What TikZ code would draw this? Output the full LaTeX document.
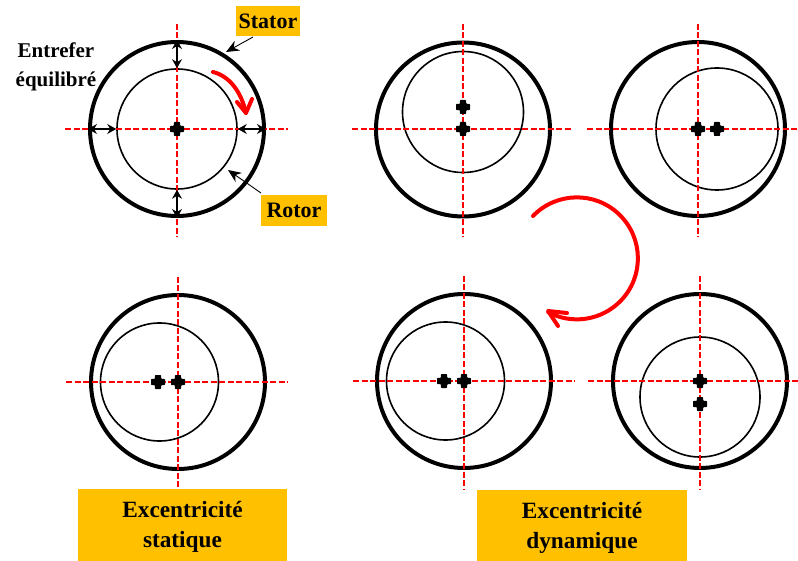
\documentclass[tikz,border=0pt]{standalone}
\usepackage{fontspec}
\setmainfont{Liberation Serif}
\usetikzlibrary{arrows.meta}
\definecolor{orange1}{HTML}{FFC000}
\tikzset{
  statorc/.style={circle,draw=black,line width=4pt,inner sep=0pt,minimum size=#1},
  rotorc/.style={circle,draw=black,line width=1.6pt,inner sep=0pt,minimum size=#1},
  axisline/.style={draw=red,line width=1.5pt,dash pattern=on 6pt off 2.5pt},
  crossmk/.pic={\fill[black,rounded corners=.8pt] (-7,-3.1)--(-3.1,-3.1)--(-3.1,-7)--(3.1,-7)--(3.1,-3.1)--(7,-3.1)--(7,3.1)--(3.1,3.1)--(3.1,7)--(-3.1,7)--(-3.1,3.1)--(-7,3.1)--cycle;},
  gap/.style={draw=black,line width=1.2pt,{Stealth[length=9pt,width=10pt,inset=3pt]}-{Stealth[length=9pt,width=10pt,inset=3pt]}},
  pointer/.style={draw=black,line width=.9pt,-{Stealth[length=13pt,width=11pt]}},
  tag/.style={fill=orange1,inner sep=0pt,font=\bfseries\fontsize{22}{25}\selectfont},
  bigbox/.style={fill=orange1,inner sep=0pt},
  bigtext/.style={inner sep=0pt,align=center,font=\bfseries\fontsize{23.3}{30}\selectfont},
  plain/.style={inner sep=0pt,align=center,font=\bfseries\fontsize{21}{29}\selectfont},
  redcurve/.style={draw=red,line width=4pt,line cap=round,line join=round}
}
\begin{document}
\begin{tikzpicture}[x=1pt,y=-1pt]
\useasboundingbox (0,0) rectangle (798,561);
% stators and rotors
\node[statorc=174pt] (s1) at (177,129) {};
\node[rotorc=120pt] (r1) at (177,129) {};
\node[statorc=174pt] (s2) at (463,129.5) {};
\node[rotorc=121pt] (r2) at (463,112) {};
\node[statorc=174pt] (s3) at (698,129) {};
\node[rotorc=122pt] (r3) at (717,129) {};
\node[statorc=174pt] (s4) at (178,382) {};
\node[rotorc=118pt] (r4) at (159.5,382) {};
\node[statorc=174pt] (s5) at (464,381) {};
\node[rotorc=118pt] (r5) at (445.5,381) {};
\node[statorc=174pt] (s6) at (700,381) {};
\node[rotorc=120pt] (r6) at (700,397) {};
% axes
\foreach \cx/\cy/\xa/\xb in {177/129/65/288,463/129/352/572,698/129/587/798,178/382/66/288,464/381/353/575,700/381/588/798}{
  \draw[axisline] (\xa,\cy) -- (\xb,\cy);
  \draw[axisline] (\cx,\cy-105) -- (\cx,\cy+108);
}
% centre marks
\foreach \px/\py in {177/129,463/107,463/129,698/129,717/129,158/382,178/382,444/381,464/381,700/381,700/404}
  \pic at (\px,\py) {crossmk};
% air gap arrows
\draw[gap] (s1.north) -- (r1.north);
\draw[gap] (r1.south) -- (s1.south);
\draw[gap] (s1.west) -- (r1.west);
\draw[gap] (r1.east) -- (s1.east);
% labels
\node[tag,minimum width=64pt,minimum height=30pt] (stator) at (268,21) {Stator};
\node[tag,minimum width=66pt,minimum height=31pt] (rotor) at (294,210.5) {Rotor};
\node[plain] (entrefer) at (56,67) {Entrefer\\équilibré};
\node[bigbox,minimum width=209pt,minimum height=72pt] (b1) at (182.5,525) {};
\node[bigbox,minimum width=210pt,minimum height=71pt] (b2) at (582,525.5) {};
\node[bigtext] (t1) at (182.5,527) {Excentricité\\statique};
\node[bigtext] (t2) at (582,528) {Excentricité\\dynamique};
% pointers
\coordinate (ps) at (226,52);
\coordinate (pr) at (228,170);
\coordinate (ps0) at (253,37);
\coordinate (pr0) at (261,193);
\draw[pointer] (ps0) -- (ps);
\draw[pointer] (pr0) -- (pr);
% rotation arrows
\coordinate (a1) at (213,72);
\coordinate (a2) at (246,113);
\draw[redcurve] (a1) .. controls (229,76) and (241,91) .. (a2);
\draw[redcurve] (237,102) -- (a2) -- (252,99);
\coordinate (b0) at (533,216);
\coordinate (bt) at (548,311);
\draw[redcurve] (b0) arc[start angle=-136,end angle=118,radius=61];
\draw[redcurve] (567,313) -- (bt) -- (558,326);
\end{tikzpicture}
\end{document}
